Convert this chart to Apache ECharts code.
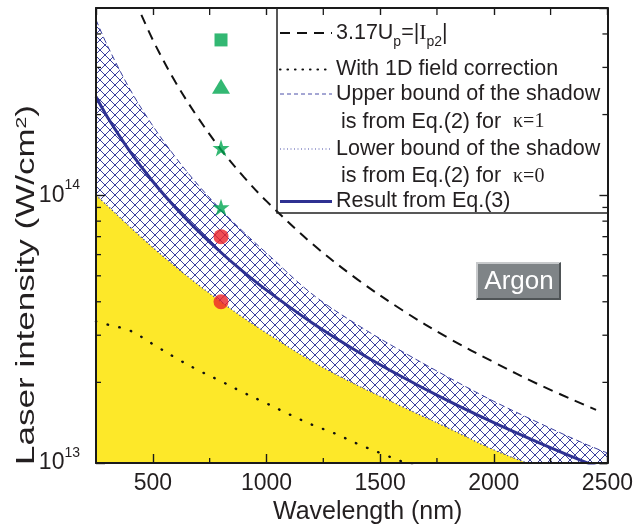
<!DOCTYPE html>
<html><head><meta charset="utf-8">
<script src="https://cdn.jsdelivr.net/npm/echarts@6/dist/echarts.min.js"></script>
<style>html,body{margin:0;padding:0;background:#fff}#c{width:636px;height:532px}</style>
</head><body><div id="c"></div>
<script>
// ---- data ----
const wavelengths = [250,300,400,500,600,700,800,900,1000,1200,1400,1600,1800,2000,2200,2400,2500];
const upperBound  = [4.52e14,3.62e14,2.48e14,1.815e14,1.385e14,1.09e14,8.82e13,7.27e13,6.08e13,4.28e13,3.28e13,2.6e13,2.09e13,1.70e13,1.41e13,1.18e13,1.09e13];
const lowerBound  = [1.0e14,9.14e13,7.61e13,6.38e13,5.41e13,4.63e13,4.0e13,3.48e13,3.06e13,2.40e13,1.95e13,1.62e13,1.35e13,1.12e13,9.6e12,8.2e12,7.6e12];
const eq3Result   = [2.33e14,1.96e14,1.455e14,1.125e14,8.98e13,7.34e13,6.11e13,5.16e13,4.42e13,3.34e13,2.61e13,2.09e13,1.705e13,1.415e13,1.19e13,1.01e13,9.37e12];
const corrWavelengths = [250,300,400,500,600,700,800,900,1000,1100,1200,1300,1400,1500,1600,1700];
const corrValues      = [3.38e13,3.29e13,3.12e13,2.78e13,2.47e13,2.22e13,2.02e13,1.83e13,1.67e13,1.52e13,1.39e13,1.29e13,1.18e13,1.09e13,1.01e13,0.94e13];
const upWavelengths = [420,500,600,700,800,900,1000,1200,1400,1600,1800,2000,2200,2450];
const upValues      = [5.39e14,3.80e14,2.64e14,1.94e14,1.48e14,1.17e14,9.5e13,6.6e13,4.85e13,3.71e13,2.93e13,2.38e13,1.96e13,1.58e13];
const expWavelength = 800;
const squareValues = [3.8e14];
const triangleValues = [2.55e14];
const starValues = [1.5e14, 9.02e13];
const circleValues = [7.0e13, 4.0e13];
const xRange = [250, 2500];
const yRange = [1e13, 5e14];
const xMinorTicks = [750, 1250, 1750, 2250];
const yMinorTicks = [2e13,3e13,4e13,5e13,6e13,7e13,8e13,9e13,2e14,3e14,4e14];
const xTitle = 'Wavelength (nm)';
const yTitle = ['Laser intensity (W/cm', '2', ')'];
const legendRows = [
  '{a|3.17U}{b|p}{a|=|}{i|I}{b|p2}{a||}',
  '{a|With 1D field correction}',
  '{a|Upper bound of the shadow}',
  '{a|is from Eq.(2) for  }{k|κ=1}',
  '{a|Lower bound of the shadow}',
  '{a|is from Eq.(2) for  }{k|κ=0}',
  '{a|Result from Eq.(3)}'
];
const boxLabel = 'Argon';

// ---- styles ----
const SANS = '"Liberation Sans", Arial, sans-serif';
const SERIF = '"Liberation Serif", "Times New Roman", serif';
const TXT = '#231f20';
const BLUE = '#2e3192';
const HATCH = '#3a3f9f';
const YELLOW = '#fde829';
const GREEN = '#00a650';
const RED = '#ec2228';

const T = 10;
const tile = document.createElement('canvas');
tile.width = T; tile.height = T;
const g = tile.getContext('2d');
g.strokeStyle = HATCH; g.lineWidth = 1;
g.beginPath();
g.moveTo(-1, -1); g.lineTo(T + 1, T + 1);
g.moveTo(T + 1, -1); g.lineTo(-1, T + 1);
g.stroke();

const pair = (xs, ys) => xs.map((x, i) => [x, ys[i]]);
const STAR = 'path://M50 0 L61.8 35.1 L99 35.1 L69 56.7 L80.3 91.9 L50 70.2 L19.7 91.9 L31 56.7 L1 35.1 L38.2 35.1 Z';

const chart = echarts.init(document.getElementById('c'), null, {renderer: 'canvas'});

const axisLine = {show: true, lineStyle: {color: '#1a1a1a', width: 2}};
const yCommon = {
  type: 'log', logBase: 10, min: yRange[0], max: yRange[1],
  axisLine, splitLine: {show: false}, z: 5
};

const legendY = [33, 69.5, 94, 122, 149, 176.5, 201.5];
const legendX = [336, 336, 336, 341, 336, 341, 336];
const legendLineStyles = [
  {row: 0, stroke: '#111', lineWidth: 2, lineDash: [10, 7]},
  {row: 1, stroke: '#111', lineWidth: 2.2, lineDash: [0.5, 7], lineCap: 'round'},
  {row: 2, stroke: '#4a4fa8', lineWidth: 1, lineDash: [4, 3]},
  {row: 4, stroke: '#4a4fa8', lineWidth: 1.2, lineDash: [1, 2.5]},
  {row: 6, stroke: BLUE, lineWidth: 3, lineDash: null}
];
const rich = {
  a: {fontSize: 21.5, fontFamily: SANS, fill: TXT},
  i: {fontSize: 21.5, fontFamily: SERIF, fill: TXT},
  b: {fontSize: 14, fontFamily: SANS, fill: TXT, padding: [18, 0, 0, 0]},
  k: {fontSize: 20, fontFamily: SERIF, fill: TXT}
};

const graphics = [];
graphics.push({type: 'polyline', shape: {points: [[277, 8], [277, 213], [608, 213]]},
  style: {stroke: '#222', lineWidth: 1.5, fill: null}, z: 10});
legendLineStyles.forEach(s => {
  graphics.push({type: 'line', shape: {x1: 280, y1: legendY[s.row], x2: 332, y2: legendY[s.row]},
    style: {stroke: s.stroke, lineWidth: s.lineWidth, lineDash: s.lineDash, lineCap: s.lineCap || 'butt'}, z: 10});
});
legendRows.forEach((t, i) => {
  graphics.push({type: 'text', x: legendX[i], y: legendY[i], z: 10,
    style: {text: t, rich, textAlign: 'left', textVerticalAlign: 'middle'}});
});
// Argon box
graphics.push({type: 'rect', shape: {x: 476, y: 262, width: 85, height: 38}, style: {fill: '#7f8487'}, z: 10});
graphics.push({type: 'polyline', shape: {points: [[477, 299], [477, 263], [560, 263]]}, style: {stroke: '#c8cacc', lineWidth: 2, fill: null}, z: 11});
graphics.push({type: 'polyline', shape: {points: [[560, 263], [560, 299], [477, 299]]}, style: {stroke: '#4f5456', lineWidth: 2, fill: null}, z: 11});
graphics.push({type: 'text', x: 519, y: 282, z: 12,
  style: {text: boxLabel, fill: '#fff', fontSize: 26, fontFamily: SANS, textAlign: 'center', textVerticalAlign: 'middle'}});
// y title (stretched along its length as in the reference)
graphics.push({type: 'text', x: 27, y: 285, rotation: Math.PI / 2, scaleX: 1.4, z: 10,
  style: {text: '{a|' + yTitle[0] + '}{s|' + yTitle[1] + '}{a|' + yTitle[2] + '}',
    textAlign: 'center', textVerticalAlign: 'middle',
    rich: {a: {fontSize: 25, fontFamily: SANS, fill: TXT},
           s: {fontSize: 15, fontFamily: SANS, fill: TXT, padding: [0, 0, 11, 0]}}}});

const option = {
  animation: false,
  backgroundColor: '#fff',
  grid: {left: 96, right: 27, top: 8, bottom: 69},
  xAxis: [
    {type: 'value', position: 'bottom', min: xRange[0], max: xRange[1], splitNumber: 5,
     axisLine, splitLine: {show: false}, z: 5,
     axisTick: {inside: true, length: 9, lineStyle: {color: '#1a1a1a', width: 1.4}},
     axisLabel: {showMinLabel: false, fontSize: 23, fontFamily: SANS, color: TXT, margin: 9,
       formatter: v => String(v)},
     name: xTitle, nameLocation: 'middle', nameGap: 34,
     nameTextStyle: {fontSize: 25, fontFamily: SANS, color: TXT, padding: [0, 0, 0, 32]}},
    {type: 'value', position: 'top', min: xRange[0], max: xRange[1], splitNumber: 5,
     axisLine, splitLine: {show: false}, z: 5,
     axisTick: {inside: true, length: 7, lineStyle: {color: '#1a1a1a', width: 1.4}},
     axisLabel: {show: false}}
  ],
  yAxis: [
    Object.assign({}, yCommon, {position: 'left',
      axisTick: {inside: true, length: 9, lineStyle: {color: '#1a1a1a', width: 1.4}},
      axisLabel: {showMaxLabel: false, margin: 16, color: TXT,
        formatter: v => '{b|10}{s|' + Math.round(Math.log10(v)) + '}',
        rich: {b: {fontSize: 23, fontFamily: SANS, color: TXT},
               s: {fontSize: 14, fontFamily: SANS, color: TXT, padding: [0, 0, 20, 0]}}}}),
    Object.assign({}, yCommon, {position: 'right',
      axisTick: {inside: true, length: 8, lineStyle: {color: '#1a1a1a', width: 1.4}},
      axisLabel: {show: false}})
  ],
  graphic: {elements: graphics},
  series: [
    {name: 'Upper bound', type: 'line', data: pair(wavelengths, upperBound), smooth: 0.35, showSymbol: false,
     lineStyle: {color: HATCH, width: 1, type: [6, 3.5]},
     areaStyle: {color: {image: tile, repeat: 'repeat'}, opacity: 1}},
    {name: 'Lower bound', type: 'line', data: pair(wavelengths, lowerBound), smooth: 0.35, showSymbol: false,
     lineStyle: {color: HATCH, width: 1.2, type: [1.2, 2.4]},
     areaStyle: {color: YELLOW, opacity: 1}},
    {name: 'Result from Eq.(3)', type: 'line', data: pair(wavelengths, eq3Result), smooth: 0.35, showSymbol: false,
     lineStyle: {color: BLUE, width: 3}},
    {name: 'With 1D field correction', type: 'line', data: pair(corrWavelengths, corrValues), smooth: 0.35, showSymbol: false,
     lineStyle: {color: '#111', width: 2.4, type: [0.5, 11.5], cap: 'round'}},
    {name: '3.17Up=|Ip2|', type: 'line', data: pair(upWavelengths, upValues), smooth: 0.35, showSymbol: false,
     lineStyle: {color: '#111', width: 2, type: [10, 7]}},
    {type: 'scatter', data: squareValues.map(v => [expWavelength, v]), symbol: 'rect', symbolSize: 13, itemStyle: {color: GREEN}, z: 4},
    {type: 'scatter', data: triangleValues.map(v => [expWavelength, v]), symbol: 'triangle', symbolSize: [18, 15], itemStyle: {color: GREEN}, z: 4},
    {type: 'scatter', data: starValues.map(v => [expWavelength, v]), symbol: STAR, symbolSize: 17, itemStyle: {color: GREEN}, z: 4},
    {type: 'scatter', data: circleValues.map(v => [expWavelength, v]), symbol: 'circle', symbolSize: 15, itemStyle: {color: RED}, z: 4},
    {type: 'custom', coordinateSystem: 'cartesian2d', clip: false, silent: true, z: 6,
     data: yMinorTicks.map(v => [xRange[0], v]),
     renderItem: (params, api) => {
       const v = api.value(1);
       const a = api.coord([xRange[0], v]);
       const b = api.coord([xRange[1], v]);
       const st = {stroke: '#1a1a1a', lineWidth: 1.3};
       return {type: 'group', children: [
         {type: 'line', shape: {x1: a[0], y1: a[1], x2: a[0] + 5, y2: a[1]}, style: st},
         {type: 'line', shape: {x1: b[0] - 5, y1: b[1], x2: b[0], y2: b[1]}, style: st}
       ]};
     }},
    {type: 'custom', coordinateSystem: 'cartesian2d', clip: false, silent: true, z: 6,
     data: xMinorTicks.map(v => [v, yRange[0]]),
     renderItem: (params, api) => {
       const v = api.value(0);
       const a = api.coord([v, yRange[0]]);
       const b = api.coord([v, yRange[1]]);
       const st = {stroke: '#1a1a1a', lineWidth: 1.3};
       return {type: 'group', children: [
         {type: 'line', shape: {x1: a[0], y1: a[1], x2: a[0], y2: a[1] - 5}, style: st},
         {type: 'line', shape: {x1: b[0], y1: b[1], x2: b[0], y2: b[1] + 7}, style: st}
       ]};
     }}
  ]
};
chart.setOption(option);
</script>
</body></html>
